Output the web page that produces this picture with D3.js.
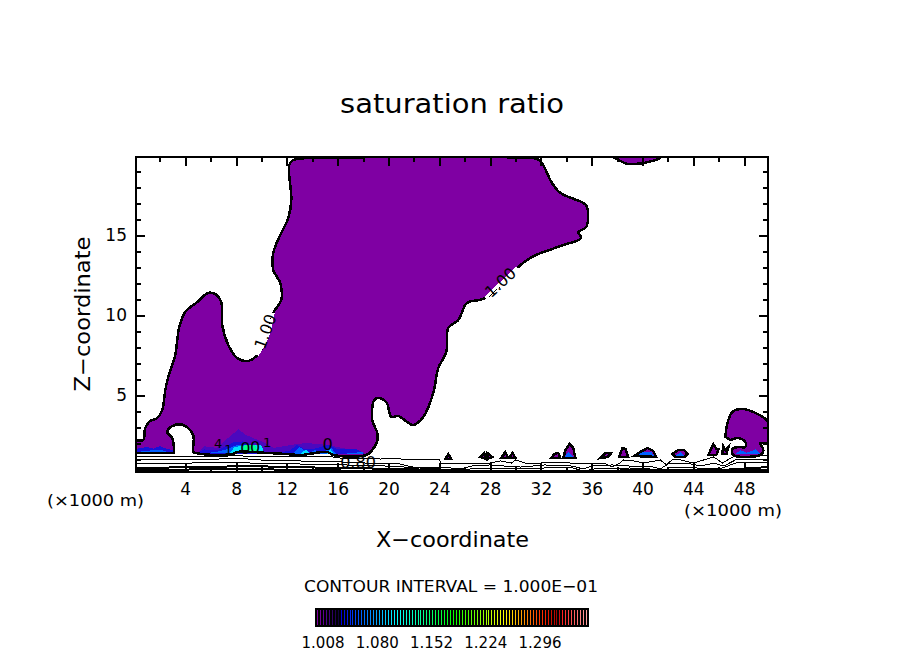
<!DOCTYPE html>
<html>
<head>
<meta charset="utf-8">
<script src="https://cdn.jsdelivr.net/npm/d3@7"></script>
<style>
  html, body { margin: 0; padding: 0; background: #fff; }
  svg { display: block; }
  text { font-family: "DejaVu Sans", sans-serif; fill: #000; }
</style>
</head>
<body>
<div id="chart"></div>
<script>
// Axis values
var xDomain = [0.125, 49.875];
var zDomain = [0.19, 19.875];
var xMajor = [4, 8, 12, 16, 20, 24, 28, 32, 36, 40, 44, 48];
var xMinor = [2, 6, 10, 14, 18, 22, 26, 30, 34, 38, 42, 46];
var zMajor = [5, 10, 15];
var zMinor = [1, 2, 3, 4, 6, 7, 8, 9, 11, 12, 13, 14, 16, 17, 18, 19];

// Colorbar
var barTicks = ["1.008", "1.080", "1.152", "1.224", "1.296"];
var barStops = [1.0, 1.012, 1.028, 1.032, 1.06, 1.107, 1.145, 1.183, 1.253, 1.28, 1.307, 1.325, 1.332, 1.36];
var barColors = ["#8000a0", "#500090", "#100040", "#0000e0", "#0060ff", "#00ffff", "#00ff90", "#00ff00",
  "#ffff00", "#ff9000", "#ff2000", "#a00000", "#ff2020", "#ff9090"];
var fieldStops = [1.0, 1.04, 1.08, 1.12, 1.16];
var fieldColors = ["#7f00a3", "#1810d8", "#0060ff", "#00e0ff", "#00ff90"];

// 1.00 contour, [x km, z km]
var mainCloud = [[0.125,1.375],[0.125,2.125],[0.69,2.19],[0.85,2.94],[1.24,3.38],[1.80,3.56],[2.19,4.06],[2.43,5.31],
  [2.66,6.13],[3.21,7.50],[3.53,9.25],[4.00,10.19],[4.94,10.81],[5.81,11.38],[6.36,11.31],[6.83,10.81],[6.91,9.38],
  [7.39,8.13],[8.09,7.31],[8.96,7.13],[9.67,7.50],[10.46,8.63],[10.93,10.13],[11.56,10.94],[11.48,12.00],[10.93,12.81],
  [10.93,13.88],[11.48,15.00],[12.11,16.06],[12.35,17.19],[12.19,19.38],[12.50,19.69],[15.18,19.81],[20.93,19.875],
  [30.14,19.84],[31.72,19.75],[32.09,19.50],[32.87,18.25],[33.53,17.63],[35.34,17.00],[35.63,16.77],[35.57,15.50],
  [34.94,15.19],[35.16,14.81],[33.53,14.31],[31.30,13.63],[30.12,12.94],[27.62,11.06],[26.18,10.75],[25.50,9.69],
  [24.71,9.19],[24.55,7.69],[23.92,6.69],[23.53,5.13],[22.74,3.63],[21.95,3.13],[21.48,3.31],[20.77,3.69],[20.22,3.63],
  [19.83,4.56],[19.20,4.81],[18.88,4.69],[18.72,3.44],[19.12,2.63],[19.12,2.13],[18.72,1.56],[18.25,1.25],[15.65,1.25],
  [15.18,1.44],[13.06,1.25],[12.03,1.31],[10.46,1.38],[8.09,1.44],[7.54,1.25],[4.79,1.38],[4.63,1.44],[4.63,2.50],
  [3.84,3.13],[2.98,3.06],[2.58,2.69],[2.98,2.31],[3.13,1.38]];
var rightCloud = [[46.52,2.38],[46.68,3.25],[47.07,3.94],[47.70,4.13],[48.72,3.94],[49.875,3.31],[49.875,2.00],[49.28,2.00],
  [49.51,1.56],[49.28,1.25],[47.15,1.25],[47.07,1.63],[47.54,1.75],[48.09,1.75],[48.09,2.06],[47.54,2.31],[46.91,2.19]];
var topCloud = [[37.70,19.875],[38.25,19.63],[38.81,19.44],[40.07,19.50],[40.77,19.63],[41.40,19.81],[41.40,19.875]];
var smallClouds = [
  [[24.47,1.0],[24.71,1.31],[24.94,1.0]],
  [[27.23,1.13],[27.54,1.38],[27.70,1.0]],
  [[27.78,1.38],[28.17,1.13],[27.78,1.0]],
  [[28.88,1.06],[29.20,1.44],[29.43,1.06]],
  [[29.76,1.38],[30.0,1.06],[29.51,1.06]],
  [[32.82,1.06],[33.06,1.31],[33.37,1.38],[33.53,1.06]],
  [[33.77,1.06],[33.92,1.56],[34.24,1.94],[34.55,1.69],[34.71,1.06]],
  [[36.68,1.06],[37.07,1.38],[37.54,1.38],[37.23,1.13]],
  [[38.17,1.13],[38.41,1.69],[38.65,1.63],[38.88,1.13]],
  [[39.35,1.19],[39.83,1.44],[40.38,1.69],[40.85,1.5],[41.07,1.13]],
  [[42.35,1.31],[42.82,1.56],[43.29,1.56],[43.53,1.31],[43.29,1.13],[42.59,1.13]],
  [[45.18,1.25],[45.57,1.94],[45.81,1.63],[45.98,1.63],[45.81,1.25]],
  [[46.28,1.31],[46.36,1.81],[46.52,1.56],[46.76,1.75],[46.60,1.31]]
];

// Shaded patches inside the cloud, low levels first
var patchLevels = [1.02, 1.04, 1.04, 1.08, 1.08, 1.08, 1.08, 1.08, 1.12, 1.12, 1.12, 1.16, 1.08, 1.08, 1.08, 1.08];
var patchShapes = [
  [[4.9,1.3],[5.5,1.8],[6.5,1.7],[7.2,2.2],[7.8,2.6],[8.2,2.85],[8.8,2.5],[10,2.1],[11,1.7],[12.5,1.9],[13.5,2.0],[15,1.9],[17,1.6],[18.2,1.3]],
  [[0.15,1.38],[0.25,1.65],[1,1.75],[1.5,1.65],[2,1.8],[2.5,1.65],[3.1,1.55],[3.1,1.38]],
  [[4.9,1.35],[5.5,1.6],[6.5,1.55],[7.2,1.8],[7.8,2.05],[8.5,2.1],[9.5,1.8],[10,1.5],[11,1.4],[12.2,1.5],[12.8,1.9],[13.4,1.6],[14,1.6],[15.3,1.9],[16,1.6],[17.5,1.6],[18.2,1.3]],
  [[0.3,1.38],[0.6,1.5],[1.5,1.55],[2.2,1.55],[2.9,1.38]],
  [[5.3,1.35],[6.5,1.45],[7.2,1.6],[8,1.85],[9.6,1.9],[10.2,1.4]],
  [[12.4,1.3],[13,1.75],[13.9,1.3]],
  [[13.6,1.3],[14.2,1.55],[15,1.45],[15.4,1.8],[15.9,1.3]],
  [[16.2,1.3],[18,1.45],[18,1.3]],
  [[7.5,1.4],[7.9,1.75],[9,1.9],[10,1.85],[10.2,1.4]],
  [[13.05,1.3],[13.5,1.6],[13.9,1.3]],
  [[15.15,1.3],[15.4,1.65],[15.7,1.3]],
  [[8.35,1.4],[8.6,1.85],[9.5,1.85],[9.75,1.4]],
  [[33.9,1.15],[34.15,1.45],[34.5,1.15]],
  [[39.5,1.2],[40.0,1.42],[40.7,1.42],[40.9,1.2]],
  [[42.6,1.2],[43.0,1.45],[43.3,1.2]],
  [[47.3,1.3],[47.7,1.55],[48.2,1.4],[48.9,1.6],[49.3,1.3]]
];

// Low level contours under the cloud
var contourLines = [
  [[0.125,1.13],[2.3,1.13],[6.7,1.13],[7.8,1.25],[9.3,1.13],[12,1.13],[15.6,1.13],[16.2,1.06],[19.4,1.0],[20.2,1.06],[21,1.0],[22,0.94],[23,0.94],[24,0.94],[24.2,0.69],[25.4,0.75],[28,0.75],[28.8,0.88],[29.7,0.75],[30,0.94],[31,0.69],[32,0.75],[32.9,0.81],[34.3,0.75],[37,0.75],[37.6,0.5],[38.2,0.75],[38.5,0.94],[39.3,0.88],[40.1,0.75],[41.4,0.94],[41.9,0.63],[42.3,0.94],[43.0,0.94],[44.0,0.75],[45.6,1.13],[46.3,0.75],[47.1,1.13],[49.875,1.25]],
  [[0.125,0.94],[5.2,0.94],[8,1.06],[9.9,0.94],[13,0.88],[16.6,0.81],[19.75,0.69],[20.9,0.69],[21.9,0.5],[24,0.5],[25.8,0.38],[26.5,0.56],[28,0.63],[29.2,0.56],[30.4,0.5],[32.3,0.63],[34.5,0.56],[35.3,0.38],[36.0,0.56],[37.6,0.63],[39,0.56],[40.6,0.56],[41.4,0.38],[42,0.69],[43.4,0.75],[44.6,0.56],[45.6,0.75],[46.4,0.56],[47.3,0.94],[49.875,1.0]],
  [[0.125,0.69],[4.4,0.75],[8.3,0.81],[10,0.69],[13,0.69],[16.6,0.63],[20,0.56],[22.5,0.44],[25.6,0.31],[27.2,0.44],[29.6,0.38],[32.3,0.44],[34.5,0.44],[35.4,0.25],[36.2,0.38],[39,0.44],[40.6,0.38],[41.5,0.25],[42.3,0.5],[43.7,0.5],[44.9,0.38],[46.3,0.44],[47.3,0.75],[49.875,0.81]],
  [[0.125,0.44],[5.2,0.5],[9,0.56],[12.3,0.5],[16.2,0.44],[20.9,0.38],[24,0.31],[28.8,0.25],[33.5,0.25],[36.7,0.25],[41.4,0.25],[43,0.31],[46.1,0.31],[49.875,0.5]],
  [[0.125,0.31],[8.3,0.38],[13.8,0.31],[19.4,0.25],[24,0.25],[49.875,0.31]]
];

// Contour labels and the gaps they leave in the line
var contourLabels = ["1.00", "1.00", "0.80", "4", "1", "0", "0", "1", "0"];
var labelX = [10.29, 28.8, 17.6, 6.6, 7.4, 8.73, 9.5, 10.45, 15.2];
var labelZ = [8.97, 12.05, 0.82, 2.0, 1.6, 1.65, 1.75, 2.05, 1.95];
var labelAngle = [-70, -42, 0, 0, 0, 0, 0, 0, 0];
var labelGaps = [[[9.67,7.50],[10.46,8.63],[10.93,10.13]], [[27.62,11.06],[30.12,12.94]]];

var width = 904, height = 654;
var plot = { left: 136, right: 768, top: 157, bottom: 472 };

var x = d3.scaleLinear().domain(xDomain).range([plot.left, plot.right]);
var z = d3.scaleLinear().domain(zDomain).range([plot.bottom, plot.top]);
var barColor = d3.scaleLinear().domain(barStops).range(barColors);
var fieldColor = d3.scaleLinear().domain(fieldStops).range(fieldColors);
var line = d3.line().x(d => x(d[0])).y(d => z(d[1]));
var smoothLine = d3.line().x(d => x(d[0])).y(d => z(d[1])).curve(d3.curveCatmullRom.alpha(0.5));

var svg = d3.select("#chart").append("svg")
  .attr("width", width)
  .attr("height", height);

svg.append("clipPath").attr("id", "plot-clip").append("rect")
  .attr("x", plot.left).attr("y", plot.top)
  .attr("width", plot.right - plot.left).attr("height", plot.bottom - plot.top);

var field = svg.append("g")
  .attr("clip-path", "url(#plot-clip)")
  .attr("shape-rendering", "crispEdges");

// Purple clouds with the 1.00 contour, the three big ones smoothed
var bigClouds = [mainCloud, rightCloud, topCloud];
var clouds = bigClouds.concat(smallClouds);
var cloudPath = (d, i) => (i < bigClouds.length ? smoothLine(d) : line(d)) + "Z";

field.selectAll("path.fill")
  .data(clouds)
  .join("path")
  .attr("class", "fill")
  .attr("d", cloudPath)
  .attr("fill", fieldColor(1.0));

field.selectAll("path.patch")
  .data(patchShapes)
  .join("path")
  .attr("class", "patch")
  .attr("d", d => line(d) + "Z")
  .attr("fill", (d, i) => fieldColor(patchLevels[i]));

field.selectAll("path.edge")
  .data(clouds)
  .join("path")
  .attr("class", "edge")
  .attr("d", cloudPath)
  .attr("fill", "none")
  .attr("stroke", "#000")
  .attr("stroke-width", 2.5);

field.selectAll("path.gap")
  .data(labelGaps)
  .join("path")
  .attr("class", "gap")
  .attr("d", smoothLine)
  .attr("fill", "none")
  .attr("stroke", "#fff")
  .attr("stroke-width", 3);

field.selectAll("path.contour")
  .data(contourLines)
  .join("path")
  .attr("class", "contour")
  .attr("d", line)
  .attr("fill", "none")
  .attr("stroke", "#000")
  .attr("stroke-width", (d, i) => i > 2 ? 2 : 1);

// Contour labels
svg.append("g").selectAll("text")
  .data(contourLabels)
  .join("text")
  .attr("transform", (d, i) => `translate(${x(labelX[i])},${z(labelZ[i])}) rotate(${labelAngle[i]})`)
  .attr("text-anchor", "middle")
  .attr("dy", "0.36em")
  .attr("font-size", (d, i) => i < 3 || d == "0" ? 16 : 13)
  .text(d => d);

// Axes, ticks point inward on all four sides
function styleAxis(g) {
  g.select(".domain").remove();
  g.selectAll("line").attr("stroke", "#000").attr("stroke-width", 2).attr("shape-rendering", "crispEdges");
  g.selectAll("text").attr("font-size", 17).attr("font-family", '"DejaVu Sans", sans-serif');
}

svg.append("g").attr("transform", `translate(0,${plot.bottom})`)
  .call(d3.axisBottom(x).tickValues(xMajor).tickSize(-9).tickPadding(11)).call(styleAxis);
svg.append("g").attr("transform", `translate(0,${plot.bottom})`)
  .call(d3.axisBottom(x).tickValues(xMinor).tickSize(-5).tickFormat("")).call(styleAxis);
svg.append("g").attr("transform", `translate(0,${plot.top})`)
  .call(d3.axisTop(x).tickValues(xMajor).tickSize(-9).tickFormat("")).call(styleAxis);
svg.append("g").attr("transform", `translate(0,${plot.top})`)
  .call(d3.axisTop(x).tickValues(xMinor).tickSize(-5).tickFormat("")).call(styleAxis);
svg.append("g").attr("transform", `translate(${plot.left},0)`)
  .call(d3.axisLeft(z).tickValues(zMajor).tickSize(-9).tickPadding(9)).call(styleAxis);
svg.append("g").attr("transform", `translate(${plot.left},0)`)
  .call(d3.axisLeft(z).tickValues(zMinor).tickSize(-5).tickFormat("")).call(styleAxis);
svg.append("g").attr("transform", `translate(${plot.right},0)`)
  .call(d3.axisRight(z).tickValues(zMajor).tickSize(-9).tickFormat("")).call(styleAxis);
svg.append("g").attr("transform", `translate(${plot.right},0)`)
  .call(d3.axisRight(z).tickValues(zMinor).tickSize(-5).tickFormat("")).call(styleAxis);

svg.append("rect")
  .attr("x", plot.left).attr("y", plot.top)
  .attr("width", plot.right - plot.left).attr("height", plot.bottom - plot.top)
  .attr("fill", "none")
  .attr("stroke", "#000")
  .attr("stroke-width", 2)
  .attr("shape-rendering", "crispEdges");

// Titles
function label(txt, px, py, size, len, rotate) {
  var t = svg.append("text")
    .attr("text-anchor", "middle")
    .attr("font-size", size)
    .attr("textLength", len)
    .attr("lengthAdjust", "spacingAndGlyphs")
    .text(txt);
  t.attr("transform", `translate(${px},${py})` + (rotate ? ` rotate(${rotate})` : ""));
  return t;
}
label("saturation ratio", 452, 113, 26, 224);
label("X\u2212coordinate", 452.5, 547, 21, 153);
label("Z\u2212coordinate", 90, 314, 21, 155, -90);
label("(\u00d71000 m)", 95.5, 506, 15.5, 97);
label("(\u00d71000 m)", 733, 516, 15.5, 98);
label("CONTOUR INTERVAL = 1.000E\u221201", 451, 592, 16, 294);

// Colorbar, one thin stripe per level on black
var barLevels = d3.range(1.0, 1.364, 0.004);
var barX = d3.scaleBand().domain(barLevels).range([316, 588]);
svg.append("rect")
  .attr("x", 315).attr("y", 608).attr("width", 274).attr("height", 19)
  .attr("fill", "#000");
svg.append("g").attr("shape-rendering", "crispEdges").selectAll("rect")
  .data(barLevels)
  .join("rect")
  .attr("x", d => Math.round(barX(d)) + 1)
  .attr("y", 610)
  .attr("width", 1)
  .attr("height", 15)
  .attr("fill", d => barColor(d));

var barLabelX = d3.scalePoint().domain(barTicks).range([323, 540]);
svg.append("g").selectAll("text")
  .data(barTicks)
  .join("text")
  .attr("x", d => barLabelX(d))
  .attr("y", 648)
  .attr("text-anchor", "middle")
  .attr("font-size", 15.5)
  .attr("textLength", 43)
  .attr("lengthAdjust", "spacingAndGlyphs")
  .text(d => d);
</script>
</body>
</html>
